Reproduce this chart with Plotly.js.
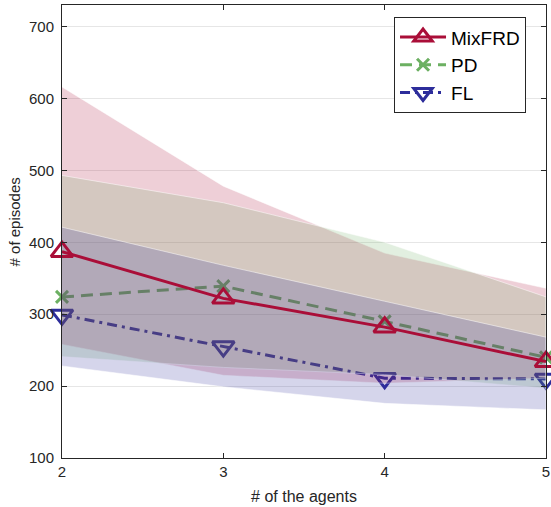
<!DOCTYPE html>
<html>
<head>
<meta charset="utf-8">
<script src="https://cdn.plot.ly/plotly-3.0.1.min.js"></script>
<style>html,body{margin:0;padding:0;background:#fff;}#chart{width:551px;height:507px;}</style>
</head>
<body>
<div id="chart"></div>
<script>
// ---- data ----
const agents = [2, 3, 4, 5];
const seriesNames = ['MixFRD', 'PD', 'FL'];
const mixfrdMean = [387, 322, 282, 234];
const pdMean = [324, 339, 290, 240];
const flMean = [299, 255, 211, 210];
const mixfrdUpper = [616, 478, 385, 336];
const mixfrdLower = [258, 215, 204, 211];
const pdUpper = [493, 455, 400, 324];
const pdLower = [241, 226, 216, 197];
const flUpper = [421, 368, 318, 268];
const flLower = [228, 199, 176, 167];
const yTicks = [100, 200, 300, 400, 500, 600, 700];
const xTicks = [2, 3, 4, 5];

// ---- styles ----
const colors = ['rgb(170,14,56)', 'rgb(108,176,98)', 'rgb(45,45,155)'];
const fills = ['rgba(170,14,56,0.2)', 'rgba(108,176,98,0.2)', 'rgba(45,45,155,0.2)'];
const fontFam = 'Liberation Sans, Arial, sans-serif';

function band(upper, lower, fillColor) {
  return {
    x: agents.concat(agents.slice().reverse()),
    y: upper.concat(lower.slice().reverse()),
    type: 'scatter', mode: 'lines', fill: 'toself',
    fillcolor: fillColor,
    line: {color: 'rgba(255,255,255,0.5)', width: 1},
    hoverinfo: 'skip', showlegend: false
  };
}

const traces = [
  {x: agents, y: flMean, name: seriesNames[2], legendrank: 3, type: 'scatter', mode: 'lines+markers', cliponaxis: false,
   line: {color: colors[2], width: 3, dash: '10px,5px,3px,5px'},
   marker: {symbol: 'triangle-down-open', size: 19, color: colors[2], line: {width: 3, color: colors[2]}}},
  {x: agents, y: pdMean, name: seriesNames[1], legendrank: 2, type: 'scatter', mode: 'lines+markers', cliponaxis: false,
   line: {color: colors[1], width: 3, dash: '12px,7px'},
   marker: {symbol: 'x-thin', size: 12, color: colors[1], line: {width: 3, color: colors[1]}}},
  band(mixfrdUpper, mixfrdLower, fills[0]),
  band(pdUpper, pdLower, fills[1]),
  band(flUpper, flLower, fills[2]),
  {x: agents, y: mixfrdMean, name: seriesNames[0], legendrank: 1, type: 'scatter', mode: 'lines+markers', cliponaxis: false,
   line: {color: colors[0], width: 3},
   marker: {symbol: 'triangle-up-open', size: 19, color: colors[0], line: {width: 3, color: colors[0]}}}
];

const axisCommon = {
  showline: true, linecolor: '#262626', linewidth: 1, mirror: 'allticks',
  ticks: 'inside', ticklen: 5, tickcolor: '#262626', tickwidth: 1,
  zeroline: false,
  tickfont: {family: fontFam, size: 15, color: '#262626'}
};

const layout = {
  width: 551, height: 507,
  margin: {l: 62, r: 5, t: 5, b: 49},
  paper_bgcolor: '#fff', plot_bgcolor: '#fff',
  showlegend: true,
  xaxis: Object.assign({}, axisCommon, {
    range: [2, 5], tickvals: xTicks, ticktext: xTicks.map(String), showgrid: false,
    title: {text: '# of the agents', standoff: 11, font: {family: fontFam, size: 16, color: '#262626'}}
  }),
  yaxis: Object.assign({}, axisCommon, {
    range: [100, 730], tickvals: yTicks, ticktext: yTicks.map(String),
    showgrid: true, gridcolor: '#e6e6e6', gridwidth: 1, ticklabelstandoff: 4
  }),
  annotations: [{
    text: '# of episodes', textangle: -90, showarrow: false,
    xref: 'paper', yref: 'paper', x: 0, y: 0.52, xanchor: 'center', yanchor: 'middle',
    xshift: -48,
    font: {family: fontFam, size: 15, color: '#262626'}
  }],
  legend: {
    x: 0.686, y: 0.973, xanchor: 'left', yanchor: 'top',
    bgcolor: '#fff', bordercolor: '#262626', borderwidth: 1,
    font: {family: fontFam, size: 19, color: '#000'},
    itemwidth: 46, tracegroupgap: 0
  }
};

Plotly.newPlot('chart', traces, layout, {displayModeBar: false, staticPlot: true});
</script>
</body>
</html>
